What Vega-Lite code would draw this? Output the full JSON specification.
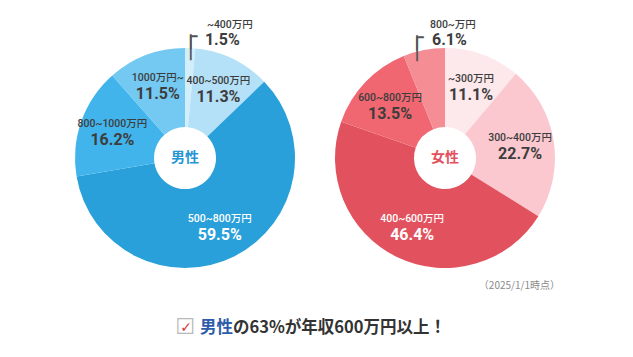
{
  "$schema": "https://vega.github.io/schema/vega-lite/v6.json",
  "background": "white",
  "padding": {"left": 60, "top": 0, "right": 0, "bottom": 0},
  "spacing": 10,
  "bounds": "flush",
  "config": {"view": {"stroke": null}},
  "resolve": {"scale": {"color": "independent", "theta": "independent"}},
  "datasets": {
    "income": [
      {"sex": "男性", "band": "~400万円", "pct": 0.015, "rank": 1},
      {"sex": "男性", "band": "400~500万円", "pct": 0.113, "rank": 2},
      {"sex": "男性", "band": "500~800万円", "pct": 0.595, "rank": 3},
      {"sex": "男性", "band": "800~1000万円", "pct": 0.162, "rank": 4},
      {"sex": "男性", "band": "1000万円~", "pct": 0.115, "rank": 5},
      {"sex": "女性", "band": "~300万円", "pct": 0.111, "rank": 1},
      {"sex": "女性", "band": "300~400万円", "pct": 0.227, "rank": 2},
      {"sex": "女性", "band": "400~600万円", "pct": 0.464, "rank": 3},
      {"sex": "女性", "band": "600~800万円", "pct": 0.135, "rank": 4},
      {"sex": "女性", "band": "800~万円", "pct": 0.061, "rank": 5}
    ]
  },
  "hconcat": [
    {
      "width": 250,
      "height": 316,
      "layer": [
        {
          "data": {"name": "income"},
          "transform": [{"filter": "datum.sex === '男性'"}],
          "mark": {"type": "arc", "innerRadius": 31, "outerRadius": 110},
          "encoding": {
            "theta": {"field": "pct", "type": "quantitative", "stack": true},
            "order": {"field": "rank", "type": "quantitative"},
            "color": {"field": "band", "type": "nominal", "legend": null,
              "scale": {"domain": ["~400万円", "400~500万円", "500~800万円", "800~1000万円", "1000万円~"],
                        "range": ["#d3eefb", "#b4e1f7", "#29a0da", "#42b4ec", "#73c9f2"]}}
          }
        },
        {
          "data": {"name": "income"},
          "transform": [{"filter": "datum.sex === '男性'"}],
          "mark": {"type": "text", "radius": 77, "dy": -8, "fontSize": 10.5, "fontWeight": 500, "font": "Roboto, Noto Sans CJK JP, sans-serif", "baseline": "middle"},
          "encoding": {
            "theta": {"field": "pct", "type": "quantitative", "stack": true},
            "order": {"field": "rank", "type": "quantitative"},
            "detail": {"field": "band", "type": "nominal"},
            "text": {"condition": {"test": "datum.pct < 0.1", "value": ""}, "field": "band", "type": "nominal"},
            "color": {"condition": {"test": "datum.pct > 0.4", "value": "white"}, "value": "#3d3d3d"}
          }
        },
        {
          "data": {"name": "income"},
          "transform": [{"filter": "datum.sex === '男性'"}],
          "mark": {"type": "text", "radius": 77, "dy": 8, "fontSize": 16, "fontWeight": "bold", "font": "Roboto, sans-serif", "baseline": "middle"},
          "encoding": {
            "theta": {"field": "pct", "type": "quantitative", "stack": true},
            "order": {"field": "rank", "type": "quantitative"},
            "detail": {"field": "band", "type": "nominal"},
            "text": {"condition": {"test": "datum.pct < 0.1", "value": ""}, "field": "pct", "type": "quantitative", "format": ".1%"},
            "color": {"condition": {"test": "datum.pct > 0.4", "value": "white"}, "value": "#3d3d3d"}
          }
        },
        {
          "data": {"name": "income"},
          "transform": [{"filter": "datum.sex === '男性'"}],
          "mark": {"type": "text", "radius": 126, "dx": 16, "dy": -7, "align": "left", "fontSize": 10.5, "fontWeight": 500, "font": "Roboto, Noto Sans CJK JP, sans-serif", "baseline": "middle", "color": "#3d3d3d"},
          "encoding": {
            "theta": {"field": "pct", "type": "quantitative", "stack": true},
            "order": {"field": "rank", "type": "quantitative"},
            "detail": {"field": "band", "type": "nominal"},
            "text": {"condition": {"test": "datum.pct >= 0.1", "value": ""}, "field": "band", "type": "nominal"}
          }
        },
        {
          "data": {"name": "income"},
          "transform": [{"filter": "datum.sex === '男性'"}],
          "mark": {"type": "text", "radius": 126, "dx": 14, "dy": 8, "align": "left", "fontSize": 16, "fontWeight": "bold", "font": "Roboto, sans-serif", "baseline": "middle", "color": "#3d3d3d"},
          "encoding": {
            "theta": {"field": "pct", "type": "quantitative", "stack": true},
            "order": {"field": "rank", "type": "quantitative"},
            "detail": {"field": "band", "type": "nominal"},
            "text": {"condition": {"test": "datum.pct >= 0.1", "value": ""}, "field": "pct", "type": "quantitative", "format": ".1%"}
          }
        },
        {
          "data": {"name": "income"},
          "transform": [{"filter": "datum.sex === '男性'"}],
          "mark": {"type": "text", "radius": 121, "align": "center", "baseline": "middle", "fontSize": 22, "font": "DejaVu Sans Mono", "color": "#555555"},
          "encoding": {
            "theta": {"field": "pct", "type": "quantitative", "stack": true},
            "order": {"field": "rank", "type": "quantitative"},
            "detail": {"field": "band", "type": "nominal"},
            "text": {"condition": {"test": "datum.pct < 0.1", "value": "┌"}, "value": ""}
          }
        },
        {
          "data": {"name": "income"},
          "transform": [{"filter": "datum.sex === '男性'"}],
          "mark": {"type": "text", "radius": 121, "dy": 11, "align": "center", "baseline": "middle", "fontSize": 22, "font": "DejaVu Sans Mono", "color": "#555555"},
          "encoding": {
            "theta": {"field": "pct", "type": "quantitative", "stack": true},
            "order": {"field": "rank", "type": "quantitative"},
            "detail": {"field": "band", "type": "nominal"},
            "text": {"condition": {"test": "datum.pct < 0.1", "value": "│"}, "value": ""}
          }
        },
        {
          "data": {"values": [{"label": "男性"}]},
          "mark": {"type": "text", "font": "Noto Sans CJK JP", "fontSize": 14, "fontWeight": "bold", "color": "#2596d4", "baseline": "middle"},
          "encoding": {"text": {"field": "label", "type": "nominal"}}
        },
        {
          "data": {"values": [{"box": "☐", "tick": "✓", "head": "男性", "rest": "の63%が年収600万円以上！"}]},
          "layer": [
            {
              "mark": {"type": "text", "font": "DejaVu Sans", "fontSize": 22, "color": "#b8b8b8", "baseline": "middle", "align": "center", "dx": 0, "dy": 169},
              "encoding": {"text": {"field": "box", "type": "nominal"}}
            },
            {
              "mark": {"type": "text", "font": "DejaVu Sans", "fontSize": 14, "fontWeight": "bold", "color": "#d23a3f", "baseline": "middle", "align": "center", "dx": 1, "dy": 170},
              "encoding": {"text": {"field": "tick", "type": "nominal"}}
            },
            {
              "mark": {"type": "text", "font": "Noto Sans CJK JP", "fontSize": 16.5, "fontWeight": "bold", "color": "#2e5caa", "baseline": "middle", "align": "left", "dx": 15, "dy": 169.5},
              "encoding": {"text": {"field": "head", "type": "nominal"}}
            },
            {
              "mark": {"type": "text", "font": "Noto Sans CJK JP", "fontSize": 16.5, "fontWeight": "bold", "color": "#333333", "baseline": "middle", "align": "left", "dx": 48, "dy": 169.5},
              "encoding": {"text": {"field": "rest", "type": "nominal"}}
            }
          ]
        }
      ]
    },
    {
      "width": 250,
      "height": 316,
      "layer": [
        {
          "data": {"name": "income"},
          "transform": [{"filter": "datum.sex === '女性'"}],
          "mark": {"type": "arc", "innerRadius": 31, "outerRadius": 110},
          "encoding": {
            "theta": {"field": "pct", "type": "quantitative", "stack": true},
            "order": {"field": "rank", "type": "quantitative"},
            "color": {"field": "band", "type": "nominal", "legend": null,
              "scale": {"domain": ["~300万円", "300~400万円", "400~600万円", "600~800万円", "800~万円"],
                        "range": ["#fde8eb", "#fcc8cf", "#e2525e", "#f06772", "#f58d95"]}}
          }
        },
        {
          "data": {"name": "income"},
          "transform": [{"filter": "datum.sex === '女性'"}],
          "mark": {"type": "text", "radius": 76, "dy": -8, "fontSize": 10.5, "fontWeight": 500, "font": "Roboto, Noto Sans CJK JP, sans-serif", "baseline": "middle"},
          "encoding": {
            "theta": {"field": "pct", "type": "quantitative", "stack": true},
            "order": {"field": "rank", "type": "quantitative"},
            "detail": {"field": "band", "type": "nominal"},
            "text": {"condition": {"test": "datum.pct < 0.1", "value": ""}, "field": "band", "type": "nominal"},
            "color": {"condition": {"test": "datum.pct > 0.4", "value": "white"}, "value": "#3d3d3d"}
          }
        },
        {
          "data": {"name": "income"},
          "transform": [{"filter": "datum.sex === '女性'"}],
          "mark": {"type": "text", "radius": 76, "dy": 8, "fontSize": 16, "fontWeight": "bold", "font": "Roboto, sans-serif", "baseline": "middle"},
          "encoding": {
            "theta": {"field": "pct", "type": "quantitative", "stack": true},
            "order": {"field": "rank", "type": "quantitative"},
            "detail": {"field": "band", "type": "nominal"},
            "text": {"condition": {"test": "datum.pct < 0.1", "value": ""}, "field": "pct", "type": "quantitative", "format": ".1%"},
            "color": {"condition": {"test": "datum.pct > 0.4", "value": "white"}, "value": "#3d3d3d"}
          }
        },
        {
          "data": {"name": "income"},
          "transform": [{"filter": "datum.sex === '女性'"}],
          "mark": {"type": "text", "radius": 126, "dx": 9, "dy": -9, "align": "left", "fontSize": 10.5, "fontWeight": 500, "font": "Roboto, Noto Sans CJK JP, sans-serif", "baseline": "middle", "color": "#3d3d3d"},
          "encoding": {
            "theta": {"field": "pct", "type": "quantitative", "stack": true},
            "order": {"field": "rank", "type": "quantitative"},
            "detail": {"field": "band", "type": "nominal"},
            "text": {"condition": {"test": "datum.pct >= 0.1", "value": ""}, "field": "band", "type": "nominal"}
          }
        },
        {
          "data": {"name": "income"},
          "transform": [{"filter": "datum.sex === '女性'"}],
          "mark": {"type": "text", "radius": 126, "dx": 11, "dy": 6, "align": "left", "fontSize": 16, "fontWeight": "bold", "font": "Roboto, sans-serif", "baseline": "middle", "color": "#3d3d3d"},
          "encoding": {
            "theta": {"field": "pct", "type": "quantitative", "stack": true},
            "order": {"field": "rank", "type": "quantitative"},
            "detail": {"field": "band", "type": "nominal"},
            "text": {"condition": {"test": "datum.pct >= 0.1", "value": ""}, "field": "pct", "type": "quantitative", "format": ".1%"}
          }
        },
        {
          "data": {"name": "income"},
          "transform": [{"filter": "datum.sex === '女性'"}],
          "mark": {"type": "text", "radius": 121, "dx": -5, "dy": -1, "align": "center", "baseline": "middle", "fontSize": 22, "font": "DejaVu Sans Mono", "color": "#555555"},
          "encoding": {
            "theta": {"field": "pct", "type": "quantitative", "stack": true},
            "order": {"field": "rank", "type": "quantitative"},
            "detail": {"field": "band", "type": "nominal"},
            "text": {"condition": {"test": "datum.pct < 0.1", "value": "┌"}, "value": ""}
          }
        },
        {
          "data": {"name": "income"},
          "transform": [{"filter": "datum.sex === '女性'"}],
          "mark": {"type": "text", "radius": 121, "dx": -5, "dy": 10, "align": "center", "baseline": "middle", "fontSize": 22, "font": "DejaVu Sans Mono", "color": "#555555"},
          "encoding": {
            "theta": {"field": "pct", "type": "quantitative", "stack": true},
            "order": {"field": "rank", "type": "quantitative"},
            "detail": {"field": "band", "type": "nominal"},
            "text": {"condition": {"test": "datum.pct < 0.1", "value": "│"}, "value": ""}
          }
        },
        {
          "data": {"values": [{"label": "女性"}]},
          "mark": {"type": "text", "font": "Noto Sans CJK JP", "fontSize": 14, "fontWeight": "bold", "color": "#e2525e", "baseline": "middle"},
          "encoding": {"text": {"field": "label", "type": "nominal"}}
        },
        {
          "data": {"values": [{"note": "（2025/1/1時点）"}]},
          "mark": {"type": "text", "font": "Noto Sans CJK JP", "fontSize": 10, "color": "#8a8a8a", "baseline": "middle", "align": "right", "dx": 115, "dy": 128},
          "encoding": {"text": {"field": "note", "type": "nominal"}}
        }
      ]
    }
  ]
}
